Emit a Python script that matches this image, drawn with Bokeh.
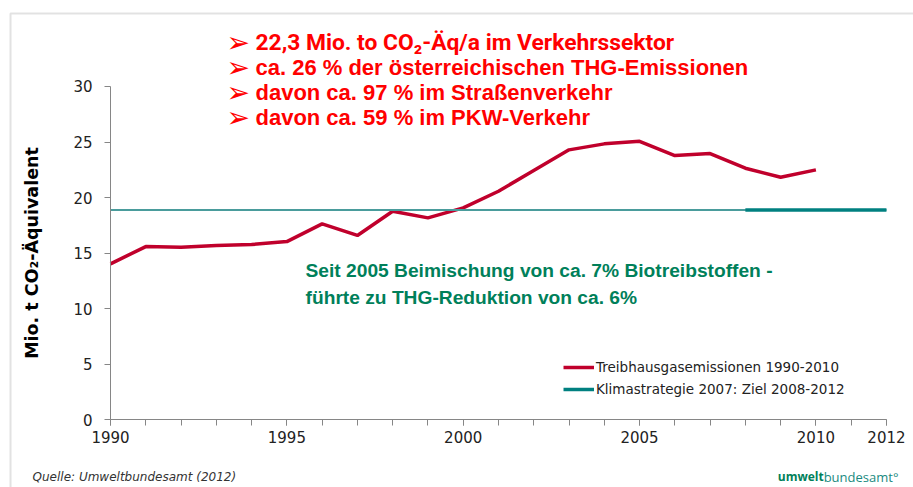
from bokeh.plotting import figure
from bokeh.models import Label, Legend, LegendItem, FixedTicker, BoxAnnotation, ColumnDataSource
from bokeh.embed import file_html
from bokeh.resources import INLINE

# ---- data ----
years = list(range(1990, 2011))
emissions = [14.05, 15.6, 15.55, 15.7, 15.78, 16.05, 17.64, 16.6, 18.78, 18.18, 19.08,
             20.58, 22.44, 24.3, 24.84, 25.07, 23.79, 23.97, 22.65, 21.84, 22.5]
target_years_full = [1990, 2012]
target_years_goal = [2008, 2012]
target_value = 18.9

x_major_ticks = [1990, 1995, 2000, 2005, 2010, 2012]
x_minor_ticks = list(range(1990, 2013))
y_ticks = [0, 5, 10, 15, 20, 25, 30]

legend_labels = ["Treibhausgasemissionen 1990-2010", "Klimastrategie 2007: Ziel 2008-2012"]
bullet_lines = ["22,3 Mio. to CO₂-Äq/a im Verkehrssektor",
                "ca. 26 % der österreichischen THG-Emissionen",
                "davon ca. 97 % im Straßenverkehr",
                "davon ca. 59 % im PKW-Verkehr"]
bullet_y = [34.0, 31.7, 29.45, 27.2]
note_lines = ["Seit 2005 Beimischung von ca. 7% Biotreibstoffen -",
              "führte zu THG-Reduktion von ca. 6%"]
note_y = [13.44, 11.02]
source_text = "Quelle: Umweltbundesamt (2012)"

RED = "#c0002c"
TEAL = "#008080"
TEAL_THIN = "#4a9c9c"
GREEN = "#00805a"

W, H = 913, 487
p = figure(width=W, height=H, output_backend="svg", toolbar_location=None,
           x_range=(1986.881, 2012.767), y_range=(-6.072, 37.735),
           min_border=0, min_border_left=0, min_border_right=0,
           min_border_top=0, min_border_bottom=0)
p.outline_line_color = None
p.xgrid.visible = False
p.ygrid.visible = False
p.background_fill_color = "white"
p.border_fill_color = "white"

# axes (placed inside the frame at data positions)
p.xaxis.fixed_location = 0
p.yaxis.fixed_location = 1990
p.xaxis.bounds = (1990, 2012)
p.yaxis.bounds = (0, 30)
for ax in (p.xaxis[0], p.yaxis[0]):
    ax.axis_line_color = "#868686"
    ax.major_tick_line_color = "#868686"
    ax.minor_tick_line_color = "#868686"
    ax.major_label_text_font = "DejaVu Sans"
    ax.major_label_text_font_size = "15px"
    ax.major_label_text_color = "#222222"
    ax.major_tick_in = 0
    ax.minor_tick_in = 0
    ax.major_tick_out = 6
    ax.minor_tick_out = 6

p.xaxis.ticker = FixedTicker(ticks=x_major_ticks, minor_ticks=x_minor_ticks)
p.yaxis.ticker = FixedTicker(ticks=y_ticks)
p.yaxis.minor_tick_out = 0
p.xaxis.major_label_standoff = 5
p.yaxis.major_label_standoff = 12
p.yaxis.axis_label = "Mio. t CO₂-Äquivalent"
p.yaxis.axis_label_text_font = "DejaVu Sans"
p.yaxis.axis_label_text_font_style = "bold"
p.yaxis.axis_label_text_font_size = "17.5px"
p.yaxis.axis_label_text_color = "black"
p.yaxis.axis_label_standoff = 28

# lines
src = ColumnDataSource(dict(x=years, y=emissions))
r_em = p.line("x", "y", source=src, line_color=RED, line_width=3.5)
p.line(target_years_full, [target_value] * len(target_years_full), line_color=TEAL_THIN, line_width=2)
r_goal = p.line(target_years_goal, [target_value] * len(target_years_goal), line_color=TEAL, line_width=3.5)

legend = Legend(items=[LegendItem(label=legend_labels[0], renderers=[r_em]),
                       LegendItem(label=legend_labels[1], renderers=[r_goal])],
                location=(563, 88), padding=0, margin=0, spacing=2,
                glyph_width=31, glyph_height=20, label_height=20, label_standoff=2,
                border_line_alpha=0, background_fill_alpha=0,
                label_text_font="DejaVu Sans", label_text_font_size="13.5px",
                label_text_color="#222222")
p.add_layout(legend, "center")

# red bullet text
for i, (txt, yv) in enumerate(zip(bullet_lines, bullet_y)):
    p.add_layout(Label(x=1993.29, y=yv, text="➢", text_color="#ff0000",
                       text_font="DejaVu Sans", text_font_size="28px", text_baseline="middle"))
    if i == 0:
        p.add_layout(Label(x=1994.11, y=yv, text=txt, text_color="#ff0000",
                           text_font="Roboto", text_font_style="bold",
                           text_font_size="22.8px", text_baseline="middle"))
    else:
        p.add_layout(Label(x=1994.11, y=yv, text=txt, text_color="#ff0000",
                           text_font="Liberation Sans", text_font_style="bold",
                           text_font_size="22px", text_baseline="middle"))

for txt, yv in zip(note_lines, note_y):
    p.add_layout(Label(x=1995.53, y=yv, text=txt, text_color=GREEN,
                       text_font="Liberation Sans", text_font_style="bold",
                       text_font_size="19.2px", text_baseline="middle"))

p.add_layout(Label(x=1987.79, y=-5.17, text=source_text, text_color="#333333",
                   text_font="DejaVu Sans", text_font_style="italic",
                   text_font_size="12px", text_baseline="middle"))
p.add_layout(Label(x=2010.22, y=-5.1, text="umwelt", text_color="#00805a",
                   text_font="Open Sans", text_font_style="bold", text_align="right",
                   text_font_size="12px", text_baseline="middle"))
p.add_layout(Label(x=2010.22, y=-5.1, text="bundesamt°", text_color="#1a8a80",
                   text_font="Open Sans", text_font_size="13px", text_baseline="middle"))

# slide frame
p.add_layout(BoxAnnotation(left=1987.165, right=2013.5, top=36.566, bottom=-7,
                           fill_alpha=0, line_color="#a0a0a0", line_width=2))

open("out.html", "w").write(file_html(p, INLINE))
